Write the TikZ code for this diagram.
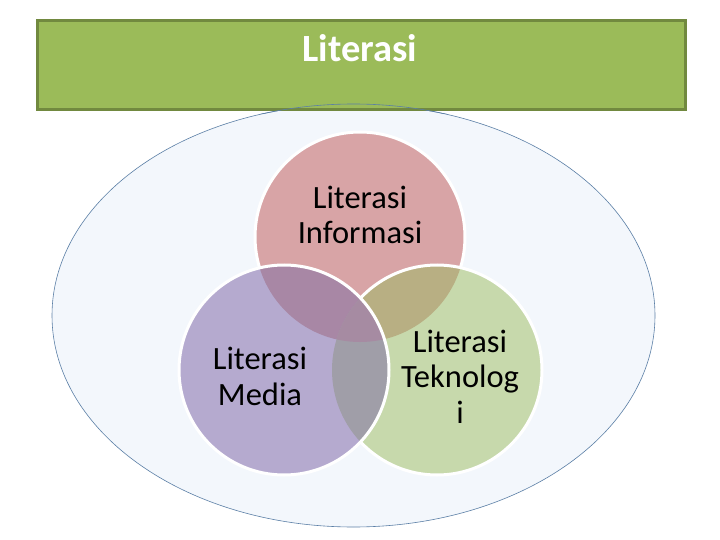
\documentclass[tikz,border=0pt]{standalone}
\usepackage{fontspec}
\setmainfont{Carlito}
\definecolor{titlefill}{HTML}{9BBB59}
\definecolor{titledraw}{HTML}{71893F}
\definecolor{ellfill}{HTML}{F3F7FC}
\definecolor{elldraw}{HTML}{5B7FA6}
\definecolor{cInfo}{HTML}{D8A4A6}
\definecolor{cMedia}{HTML}{B5AACF}
\definecolor{cTek}{HTML}{C7D9AC}
\definecolor{cIM}{HTML}{A887A5}
\definecolor{cIT}{HTML}{B8AF83}
\definecolor{cMT}{HTML}{A09EA8}
\definecolor{cAll}{HTML}{A68BA2}
\tikzset{
  venntext/.style={align=center, inner sep=0pt, text=black,
    font=\fontsize{32.5}{35.5}\selectfont},
  outline/.style={draw=white, line width=3pt},
  ellline/.style={draw=elldraw, line width=0.6pt},
}
\begin{document}
\begin{tikzpicture}[x=1pt,y=-1pt]
\useasboundingbox (0,0) rectangle (720,540);
\fill[white] (0,0) rectangle (720,540);
% outer ellipse
\coordinate (ec) at (353.5,315.5);
\filldraw[fill=ellfill, ellline] (ec) ellipse [x radius=301.5pt, y radius=211.5pt];
% title bar
\node[draw=titledraw, fill=titlefill, line width=3pt, minimum width=648pt, minimum height=89pt, inner sep=0pt] (bar) at (361,65.5) {};
\begin{scope}
  \clip ([yshift=-2pt]bar.south west) rectangle ([yshift=10pt]bar.south east);
  \draw[ellline] (ec) ellipse [x radius=301.5pt, y radius=211.5pt];
\end{scope}
\node[anchor=base, text=white, font=\fontsize{38.5}{42}\selectfont\bfseries, inner sep=0pt] (title) at (360,61.5) {Literasi};
% circle centres
\coordinate (cI) at (360,237);
\coordinate (cT) at (437,370);
\coordinate (cM) at (284,370);
\def\R{105pt}
% top circle
\fill[cInfo] (cI) circle (\R);
\draw[outline] (cI) circle (\R);
% right circle
\fill[cTek] (cT) circle (\R);
\begin{scope}
  \clip (cT) circle (\R);
  \fill[cIT] (cI) circle (\R);
\end{scope}
\draw[outline] (cT) circle (\R);
% left circle
\fill[cMedia] (cM) circle (\R);
\begin{scope}
  \clip (cM) circle (\R);
  \fill[cIM] (cI) circle (\R);
  \fill[cMT] (cT) circle (\R);
  \clip (cT) circle (\R);
  \fill[cAll] (cI) circle (\R);
\end{scope}
\draw[outline] (cM) circle (\R);
% labels
\node[venntext] (tInfo) at (360,215) {Literasi\\Informasi};
\node[venntext] (tMedia) at (260,376.5) {Literasi\\Media};
\node[venntext] (tTek) at (460,376.5) {Literasi\\Teknolog\\i};
\end{tikzpicture}
\end{document}
